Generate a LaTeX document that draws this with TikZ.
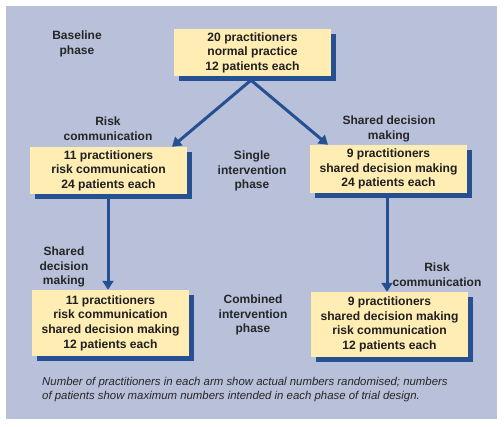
\documentclass[tikz,border=0pt]{standalone}
\usepackage{fontspec}
\setmainfont{Liberation Sans}
\usetikzlibrary{arrows.meta,shadows}
\definecolor{bg}{RGB}{184,192,218}
\definecolor{boxfill}{RGB}{255,237,180}
\definecolor{dblue}{RGB}{38,80,145}
\begin{document}
\begin{tikzpicture}[x=1pt,y=-1pt,
  stagebox/.style={fill=boxfill, minimum width=157pt, inner sep=0pt, align=center,
    font=\bfseries\fontsize{12.1}{14.6}\selectfont, text=black!88,
    general shadow={fill=dblue, shadow xshift=5pt, shadow yshift=-5pt}},
  lbl/.style={align=center, inner sep=0pt, font=\bfseries\fontsize{12}{14.6}\selectfont, text=black!85},
  flow/.style={draw=dblue, line width=3pt, -{Triangle[length=9pt,width=11pt]}}]
\useasboundingbox (0,0) rectangle (504,427);
\fill[white] (0,0) rectangle (504,427);
\fill[bg] (6,6) rectangle (497,419);
% boxes
\node[stagebox, minimum height=47pt] (top) at (252.5,52.5) {20 practitioners\\normal practice\\12 patients each};
\node[stagebox, minimum height=47pt] (lm) at (108.5,170.5) {11 practitioners\\risk communication\\24 patients each};
\node[stagebox, minimum height=48pt] (rm) at (388.5,169) {9 practitioners\\shared decision making\\24 patients each};
\node[stagebox, minimum height=66pt] (lb) at (110.5,323) {11 practitioners\\risk communication\\shared decision making\\12 patients each};
\node[stagebox, minimum height=65pt] (rb) at (389.5,324.5) {9 practitioners\\shared decision making\\risk communication\\12 patients each};
% labels
\node[lbl] (l1) at (77,44) {Baseline\\phase};
\node[lbl] (l2) at (108,129) {Risk\\communication};
\node[lbl] (l3) at (389,129) {Shared decision\\making};
\node[lbl] (l4) at (252,171) {Single\\intervention\\phase};
\node[lbl] (l5) at (64,267) {Shared\\decision\\making};
\node[lbl] (l6) at (437,275) {Risk\\communication};
\node[lbl] (l7) at (253,315) {Combined\\intervention\\phase};
\node[anchor=west, align=left, inner sep=0pt, font=\itshape\fontsize{11.4}{14}\selectfont, text=black!85] (cap) at (42,390)
  {Number of practitioners in each arm show actual numbers randomised; numbers\\of patients show maximum numbers intended in each phase of trial design.};
% connectors
\coordinate (apex) at ([xshift=-1.5pt,yshift=-4pt]top.south);
\draw[flow, shorten <=-1pt] (apex) -- ([xshift=63.5pt]lm.north);
\draw[flow, shorten <=-1pt] (apex) -- ([xshift=-60.5pt]rm.north);
\draw[flow] ([xshift=-0.5pt]lm.south) -- ([xshift=-2.5pt]lb.north);
\draw[flow] ([xshift=-1.5pt]rm.south) -- ([xshift=-2.5pt]rb.north);
\end{tikzpicture}
\end{document}
